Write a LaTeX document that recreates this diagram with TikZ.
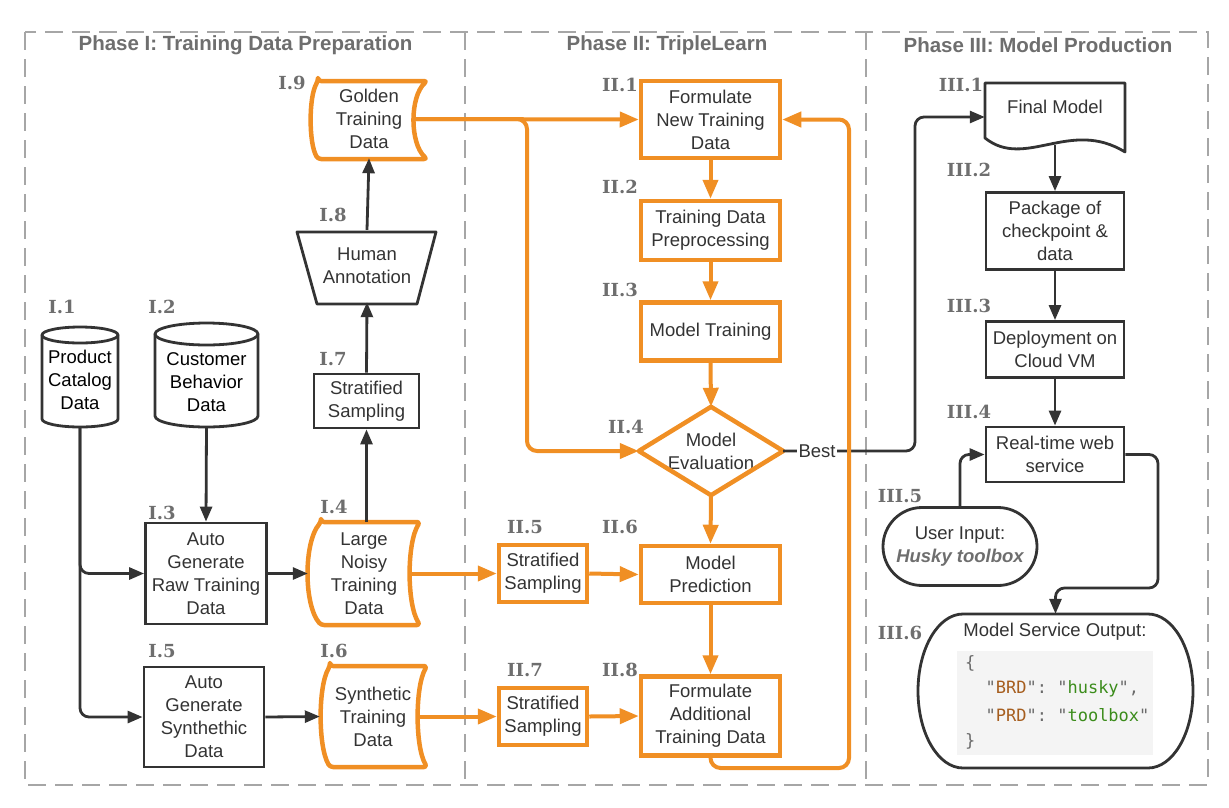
\documentclass[tikz,border=0pt]{standalone}
\usepackage{fontspec}
\setmainfont{Liberation Sans}
\setmonofont{DejaVu Sans Mono}
\newfontfamily\labfont{DejaVu Serif}
\usetikzlibrary{arrows.meta}
\definecolor{org}{HTML}{F08F24}
\definecolor{dk}{HTML}{333333}
\definecolor{lab}{HTML}{6E6E6E}
\definecolor{frm}{HTML}{A6A6A6}
\definecolor{codebg}{HTML}{F4F4F4}
\definecolor{keyc}{HTML}{A65E1F}
\definecolor{valc}{HTML}{3B8C1B}
\definecolor{punc}{HTML}{6A6A6A}
% L R T B leftbulge rightbulge
\newcommand\tapeshape[6]{%
  \draw[oshape] ({#1+#5},-#3) -- (#2,-#3)
    .. controls ({#2-#6*4/3},{-#3-(#4-#3)*0.2}) and ({#2-#6*4/3},{-#4+(#4-#3)*0.2}) .. (#2,-#4)
    -- ({#1+#5},-#4)
    .. controls ({#1-#5/3},{-#4+(#4-#3)*0.2}) and ({#1-#5/3},{-#3-(#4-#3)*0.2}) .. cycle;}
\begin{document}
\begin{tikzpicture}[x=1pt,y=1pt,
  every node/.style={font=\fontsize{18.5}{23}\selectfont, text=dk, align=center, inner sep=0pt},
  dbox/.style={draw=dk, line width=2.8pt},
  obox/.style={draw=org, line width=4.5pt},
  oshape/.style={draw=org, line width=4.5pt, rounded corners=3pt, line join=round},
  dshape/.style={draw=dk, line width=2.8pt, line join=round},
  dline/.style={draw=dk, line width=2.8pt, rounded corners=9pt, -{Triangle[length=15pt,width=12pt]}},
  oline/.style={draw=org, line width=4pt, rounded corners=10pt, -{Triangle[length=19pt,width=15pt]}},
  lbl/.style={font=\labfont\bfseries\fontsize{18}{18}\selectfont, text=lab},
  hdr/.style={font=\bfseries\fontsize{20.5}{24}\selectfont, text=lab},
  frame/.style={draw=frm, line width=2.6pt, dash pattern=on 18pt off 9pt},
  code/.style={font=\ttfamily\fontsize{17}{20}\selectfont, anchor=west, text=punc}
]
\useasboundingbox (0,0) rectangle (1229,-807);

% frames
\draw[frame] (25,-32) rectangle (1208,-785);
\draw[frame] (465,-32) -- (465,-785);
\draw[frame] (866,-32) -- (866,-785);

% headers
\node[hdr] (h1) at (245.5,-45) {Phase I: Training Data Preparation};
\node[hdr] (h2) at (667,-45) {Phase II: TripleLearn};
\node[hdr] (h3) at (1038,-45) {Phase III: Model Production};

% ---------- Phase I ----------
\draw[dshape] (42,-335) -- (42,-419) arc[start angle=180,end angle=360,x radius=38pt,y radius=8pt]
  -- (118,-335) arc[start angle=0,end angle=180,x radius=38pt,y radius=8pt] -- cycle;
\draw[dshape] (42,-335) arc[start angle=180,end angle=360,x radius=38pt,y radius=8pt];
\node[minimum width=76pt, minimum height=92pt, text=black] (i1) at (80,-380) {Product\\Catalog\\Data};

\draw[dshape] (155,-334) -- (155,-416) arc[start angle=180,end angle=360,x radius=51.5pt,y radius=11pt]
  -- (258,-334) arc[start angle=0,end angle=180,x radius=51.5pt,y radius=11pt] -- cycle;
\draw[dshape] (155,-334) arc[start angle=180,end angle=360,x radius=51.5pt,y radius=11pt];
\node[minimum width=103pt, minimum height=88pt, text=black] (i2) at (206.5,-382) {Customer\\Behavior\\Data};

\node[dbox, minimum width=121pt, minimum height=101pt] (i3) at (206,-573.5) {Auto\\Generate\\Raw Training\\Data};
\tapeshape{308}{420}{522}{625}{13}{10}
\node[minimum width=112pt, minimum height=103pt] (i4) at (364,-573.5) {Large\\Noisy\\Training\\Data};
\node[dbox, minimum width=120pt, minimum height=100pt] (i5) at (204,-717) {Auto\\Generate\\Synthethic\\Data};
\tapeshape{321}{427}{666}{767}{9}{9}
\node[minimum width=106pt, minimum height=101pt] (i6) at (373,-716.5) {Synthetic\\Training\\Data};
\node[dbox, minimum width=105pt, minimum height=54pt] (i7) at (366.5,-401) {Stratified\\Sampling};
\draw[dshape] (297,-232) -- (436,-232) -- (417,-304) -- (317,-304) -- cycle;
\node[minimum width=139pt, minimum height=72pt] (i8) at (367,-266) {Human\\Annotation};
\tapeshape{311}{427}{81}{159}{7}{13}
\node[minimum width=116pt, minimum height=78pt] (i9) at (369,-119) {Golden\\Training\\Data};

% ---------- Phase II ----------
\node[obox, minimum width=139pt, minimum height=77pt] (ii1) at (710.5,-119.5) {Formulate\\New Training\\Data};
\node[obox, minimum width=139pt, minimum height=59pt] (ii2) at (710.5,-230.5) {Training Data\\Preprocessing};
\node[obox, minimum width=139pt, minimum height=58pt] (ii3) at (710.5,-331.5) {Model Training};
\node[minimum width=144pt, minimum height=88pt] (ii4) at (711,-451) {Model\\Evaluation};
\draw[oshape, rounded corners=0pt] (ii4.north) -- (ii4.east) -- (ii4.south) -- (ii4.west) -- cycle;
\node[obox, minimum width=88pt, minimum height=57pt] (ii5) at (543,-573.5) {Stratified\\Sampling};
\node[obox, minimum width=139pt, minimum height=57pt] (ii6) at (710.5,-574.5) {Model\\Prediction};
\node[obox, minimum width=88pt, minimum height=57pt] (ii7) at (543,-716.5) {Stratified\\Sampling};
\node[obox, minimum width=139pt, minimum height=79pt] (ii8) at (710.5,-716) {Formulate\\Additional\\Training Data};

% ---------- Phase III ----------
\draw[dshape] (985,-138) -- (985,-83) -- (1125,-83) -- (1125,-152)
  .. controls (1070,-118) and (1025,-170) .. cycle;
\node[minimum width=140pt, minimum height=68pt] (iii1) at (1055,-117) {};
\node (iii1t) at (1055,-107) {Final Model};
\node[dbox, minimum width=138pt, minimum height=77pt] (iii2) at (1055,-231) {Package of\\checkpoint \&\\data};
\node[dbox, minimum width=138pt, minimum height=56pt] (iii3) at (1055,-349.5) {Deployment on\\Cloud VM};
\node[dbox, minimum width=138pt, minimum height=55pt] (iii4) at (1055,-454.5) {Real-time web\\service};
\node[dbox, rounded corners=39pt, minimum width=154pt, minimum height=78pt] (iii5) at (960,-546.5)
  {User Input:\\{\bfseries\itshape\color{lab}Husky toolbox}};
\draw[dshape] (1148,-614) arc[start angle=90,end angle=-90,x radius=45pt,y radius=77pt]
  -- (963,-768) arc[start angle=270,end angle=90,x radius=45pt,y radius=77pt] -- cycle;
\node[minimum width=275pt, minimum height=154pt] (iii6) at (1055.5,-691) {};
\node (iii6t) at (1055,-632) {Model Service Output:};
\node[fill=codebg, minimum width=196pt, minimum height=104pt] (cbg) at (1055,-703) {};
\node[code] (c1) at (965,-663) {\{};
\node[code] (c2) at (965,-689) {\hphantom{\{\{}"{\color{keyc}BRD}": "{\color{valc}husky}",};
\node[code] (c3) at (965,-715) {\hphantom{\{\{}"{\color{keyc}PRD}": "{\color{valc}toolbox}"};
\node[code] (c4) at (965,-741) {\}};

% ---------- labels ----------
\node[lbl] (l11) at (62,-307) {I.1};
\node[lbl] (l12) at (162,-307) {I.2};
\node[lbl] (l13) at (162,-513) {I.3};
\node[lbl] (l14) at (334,-507) {I.4};
\node[lbl] (l15) at (162,-651) {I.5};
\node[lbl] (l16) at (334,-651) {I.6};
\node[lbl] (l17) at (333,-359) {I.7};
\node[lbl] (l18) at (333,-215) {I.8};
\node[lbl] (l19) at (292,-83) {I.9};
\node[lbl] (l21) at (620,-85) {II.1};
\node[lbl] (l22) at (620,-187) {II.2};
\node[lbl] (l23) at (620,-290) {II.3};
\node[lbl] (l24) at (626,-427) {II.4};
\node[lbl] (l25) at (525,-527) {II.5};
\node[lbl] (l26) at (620,-527) {II.6};
\node[lbl] (l27) at (525,-670) {II.7};
\node[lbl] (l28) at (620,-670) {II.8};
\node[lbl] (l31) at (961,-85) {III.1};
\node[lbl] (l32) at (969,-170) {III.2};
\node[lbl] (l33) at (969,-306) {III.3};
\node[lbl] (l34) at (969,-412) {III.4};
\node[lbl] (l35) at (900,-496) {III.5};
\node[lbl] (l36) at (900,-633) {III.6};

% ---------- dark connectors ----------
\draw[dline] (i1.south) |- (i3.west);
\draw[dline] (i1.south) |- (i5.west);
\draw[dline] (i2.south) -- (i3.north);
\draw[dline] (i3.east) -- (i4.west);
\draw[dline] (i5.east) -- (i6.west);
\draw[dline] (i7.south |- i4.north) -- (i7.south);
\draw[dline] (i7.north) -- (i8.south);
\draw[dline] (i8.north) -- (i9.south);
\coordinate (bt) at (915,-451);
\draw[dline] (ii4.east) -- (bt) |- (iii1.west);
\node[fill=white, inner xsep=1.5pt, inner ysep=2pt] (best) at (817,-451) {Best};
\draw[dline] ([yshift=6pt]iii1.south) -- (iii2.north);
\draw[dline] (iii2.south) -- (iii3.north);
\draw[dline] (iii3.south) -- (iii4.north);
\draw[dline] (iii5.north) |- (iii4.west);
\coordinate (rc) at (1158,-588);
\draw[dline] (iii4.east) -| (rc) -| (iii6.north);

% ---------- orange connectors ----------
\draw[oline] ([xshift=-13pt]i9.east) -- (ii1.west);
\coordinate (bj) at (527,-300);
\draw[oline] ([xshift=-13pt]i9.east) -| (bj) |- (ii4.west);
\draw[oline] (ii1.south) -- (ii2.north);
\draw[oline] (ii2.south) -- (ii3.north);
\draw[oline] (ii3.south) -- (ii4.north);
\draw[oline] (ii4.south) -- (ii6.north);
\draw[oline] (ii6.south) -- (ii8.north);
\draw[oline] ([xshift=-10pt]i4.east) -- (ii5.west);
\draw[oline] (ii5.east) -- (ii6.west);
\draw[oline] ([xshift=-9pt]i6.east |- ii7.west) -- (ii7.west);
\draw[oline] (ii7.east) -- (ii8.west);
\coordinate (lp) at (849,-768);
\draw[oline] (ii8.south) |- (lp) |- (ii1.east);
\end{tikzpicture}
\end{document}
